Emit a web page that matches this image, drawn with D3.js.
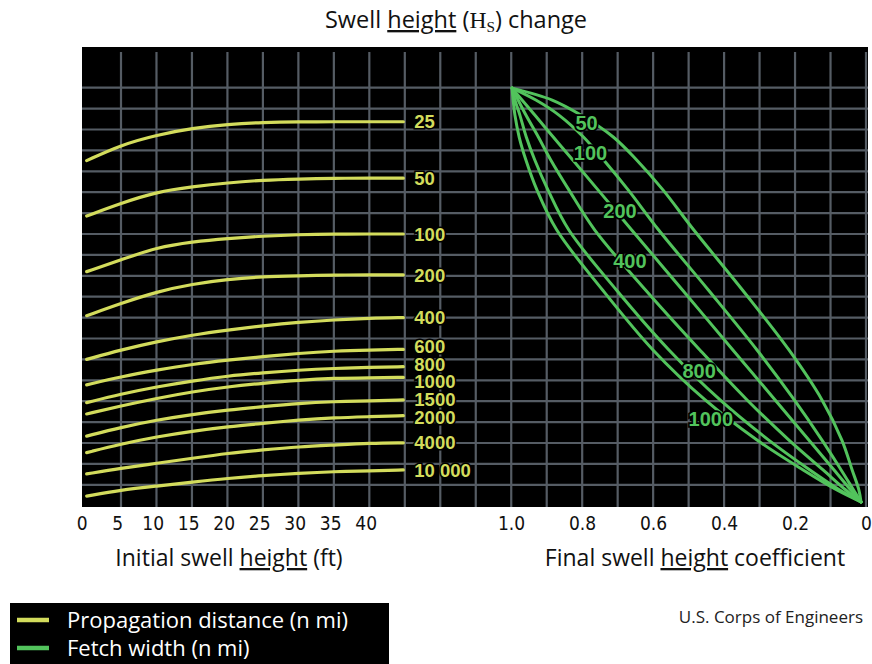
<!DOCTYPE html>
<html><head><meta charset="utf-8">
<script src="https://cdn.jsdelivr.net/npm/d3@7"></script>
<style>body{margin:0;background:#fff} svg{display:block}</style>
</head><body>
<svg id="c" width="872" height="664"></svg>
<script>
// ---------- DATA ----------
const leftTicks = [0, 5, 10, 15, 20, 25, 30, 35, 40];
const rightTicks = [1.0, 0.8, 0.6, 0.4, 0.2, 0];
const rightTickLabels = ["1.0", "0.8", "0.6", "0.4", "0.2", "0"];

// Propagation distance curves (yellow): initial swell height (ft) vs chart row
const propLabels = ["25", "50", "100", "200", "400", "600", "800", "1000", "1500", "2000", "4000", "10 000"];
const propX = [0.7, 5.5, 10.6, 15.6, 20.6, 25.5, 30.6, 35.5, 40.6, 45.3];
const prop25    = [16.51, 17.26, 17.74, 18.06, 18.25, 18.34, 18.37, 18.37, 18.37, 18.37];
const prop50    = [13.86, 14.47, 15.02, 15.26, 15.45, 15.58, 15.63, 15.67, 15.67, 15.67];
const prop100   = [11.20, 11.76, 12.36, 12.63, 12.79, 12.90, 12.97, 13.00, 13.00, 13.00];
const prop200   = [9.09, 9.68, 10.24, 10.61, 10.83, 10.96, 11.00, 11.04, 11.04, 11.04];
const prop400   = [7.00, 7.45, 7.85, 8.17, 8.41, 8.61, 8.78, 8.89, 8.97, 9.00];
const prop600   = [5.78, 6.17, 6.49, 6.77, 6.97, 7.13, 7.29, 7.40, 7.45, 7.48];
const prop800   = [4.93, 5.34, 5.69, 5.97, 6.21, 6.36, 6.49, 6.57, 6.62, 6.65];
const prop1000  = [4.39, 4.77, 5.14, 5.45, 5.69, 5.86, 6.01, 6.10, 6.12, 6.14];
const prop1500  = [3.33, 3.75, 4.10, 4.37, 4.58, 4.74, 4.90, 4.98, 5.02, 5.06];
const prop2000  = [2.54, 2.95, 3.30, 3.57, 3.78, 3.94, 4.10, 4.21, 4.26, 4.31];
const prop4000  = [1.52, 1.79, 2.03, 2.27, 2.51, 2.67, 2.82, 2.90, 2.99, 3.01];
const prop10000 = [0.46, 0.75, 0.94, 1.13, 1.31, 1.44, 1.55, 1.63, 1.67, 1.71];

// Fetch width curves (green): final swell height coefficient vs chart row
const fetchLabels = ["50", "100", "200", "400", "800", "1000"];
const fetchRows  = [19.98, 19.41, 18.69, 17.64, 16.54, 15.11, 13.19, 10.32, 7.45, 5.06, 3.14, 1.71, 0.75, 0.18];
const fetch50    = [0.997, 0.884, 0.803, 0.712, 0.646, 0.572, 0.485, 0.348, 0.217, 0.124, 0.068, 0.039, 0.020, 0.014];
const fetch100   = [0.997, 0.930, 0.865, 0.796, 0.739, 0.670, 0.584, 0.444, 0.307, 0.202, 0.124, 0.070, 0.035, 0.014];
const fetch200   = [0.997, 0.969, 0.933, 0.881, 0.826, 0.755, 0.660, 0.517, 0.375, 0.256, 0.161, 0.090, 0.043, 0.014];
const fetch400   = [0.997, 0.980, 0.958, 0.923, 0.888, 0.837, 0.764, 0.621, 0.468, 0.335, 0.217, 0.121, 0.057, 0.014];
const fetch800   = [0.997, 0.989, 0.975, 0.957, 0.933, 0.896, 0.837, 0.703, 0.555, 0.411, 0.274, 0.158, 0.074, 0.014];
const fetch1000  = [0.997, 0.994, 0.989, 0.977, 0.958, 0.927, 0.871, 0.742, 0.600, 0.453, 0.307, 0.177, 0.082, 0.014];
const fetchLabelCoef = [0.787, 0.776, 0.693, 0.665, 0.470, 0.437];
const fetchLabelRow  = [18.33, 16.90, 14.12, 11.73, 6.47, 4.17];

const legendItems = ["Propagation distance (n mi)", "Fetch width (n mi)"];
const credit = "U.S. Corps of Engineers";

// ---------- STYLE ----------
const YEL = "#d3dc5c", GRN = "#52c35c", GRID = "#555c64";
const SANS = "'Open Sans', Lato, sans-serif";
const BOLD = "'Liberation Sans', Arial, sans-serif";
const NARROW = "'Liberation Sans Narrow', 'DejaVu Sans Condensed', sans-serif";

const svg = d3.select("#c");
svg.append("rect").attr("width", 872).attr("height", 664).attr("fill", "#fff");

// scales
const colScale = d3.scaleLinear().domain([0, 21]).range([121, 866]);
const rowScale = d3.scaleLinear().domain([0, 20]).range([505.7, 87.7]);
const xL = d3.scaleLinear().domain([0, 40]).range([81.7, 365.7]);
const xR = d3.scaleLinear().domain([1, 0]).range([511, 866]);
const plot = {x0: 82, x1: 868, y0: 47, y1: 507};

// background
svg.append("rect").attr("x", plot.x0).attr("y", plot.y0)
  .attr("width", plot.x1 - plot.x0).attr("height", plot.y1 - plot.y0).attr("fill", "#000");

// grid
const grid = svg.append("g").attr("stroke", GRID).attr("stroke-width", 2.2);
grid.selectAll("line.v").data(d3.range(0, 22)).join("line").attr("class", "v")
  .attr("x1", d => colScale(d)).attr("x2", d => colScale(d))
  .attr("y1", plot.y0 + 5).attr("y2", plot.y1);
grid.selectAll("line.h").data(d3.range(1, 21)).join("line").attr("class", "h")
  .attr("x1", plot.x0).attr("x2", plot.x1)
  .attr("y1", d => rowScale(d)).attr("y2", d => rowScale(d));

// yellow curves
const propSeries = [prop25, prop50, prop100, prop200, prop400, prop600, prop800, prop1000, prop1500, prop2000, prop4000, prop10000];
const lineL = d3.line().x(d => xL(d[0])).y(d => rowScale(d[1])).curve(d3.curveBasis);
svg.append("g").selectAll("path").data(propSeries).join("path")
  .attr("d", s => lineL(s.map((v, i) => [propX[i], v])))
  .attr("fill", "none").attr("stroke", YEL).attr("stroke-width", 3.2).attr("stroke-linecap", "round");

// yellow labels with simple collision relaxation
const endY = propSeries.map(s => rowScale(s[s.length - 1]));
const labY = endY.slice();
const GAP = 17.8;
for (let it = 0; it < 200; it++) {
  for (let i = 1; i < labY.length; i++) {
    const gap = labY[i] - labY[i - 1];
    if (gap < GAP) { const sh = (GAP - gap) / 2; labY[i - 1] -= sh; labY[i] += sh; }
  }
}
svg.append("g").selectAll("text").data(propLabels).join("text")
  .attr("x", xL(propX[propX.length - 1]) + 11)
  .attr("y", (d, i) => labY[i]).attr("dy", "0.36em")
  .attr("font-family", BOLD).attr("font-weight", "bold").attr("font-size", 18.5)
  .attr("fill", YEL).attr("stroke", "#000").attr("stroke-width", 3).attr("paint-order", "stroke")
  .text(d => d);

// green curves
const fetchSeries = [fetch50, fetch100, fetch200, fetch400, fetch800, fetch1000];
const lineR = d3.line().x(d => xR(d[0])).y(d => rowScale(d[1])).curve(d3.curveCatmullRom.alpha(0.5));
svg.append("g").selectAll("path").data(fetchSeries).join("path")
  .attr("d", s => lineR(s.map((c, i) => [c, fetchRows[i]])))
  .attr("fill", "none").attr("stroke", GRN).attr("stroke-width", 3).attr("stroke-linecap", "round");

svg.append("g").selectAll("text").data(fetchLabels).join("text")
  .attr("x", (d, i) => xR(fetchLabelCoef[i])).attr("y", (d, i) => rowScale(fetchLabelRow[i]))
  .attr("dy", "0.36em").attr("text-anchor", "middle")
  .attr("font-family", BOLD).attr("font-weight", "bold").attr("font-size", 20)
  .attr("fill", GRN).attr("stroke", "#000").attr("stroke-width", 3.5).attr("paint-order", "stroke")
  .text(d => d);

// axes
const axL = svg.append("g").attr("transform", `translate(0,${plot.y1})`)
  .call(d3.axisBottom(xL).tickValues(leftTicks).tickSize(0).tickPadding(10));
const axR = svg.append("g").attr("transform", `translate(0,${plot.y1})`)
  .call(d3.axisBottom(xR).tickValues(rightTicks).tickSize(0).tickPadding(10)
    .tickFormat((d, i) => rightTickLabels[i]));
[axL, axR].forEach(a => {
  a.select(".domain").remove();
  a.selectAll("text").attr("font-family", NARROW).attr("font-size", 19).attr("fill", "#111");
});

// titles
function titleWithUnderline(x, y, parts, size) {
  const t = svg.append("text").attr("x", x).attr("y", y).attr("text-anchor", "middle")
    .attr("font-family", SANS).attr("font-size", size).attr("fill", "#111");
  parts.forEach(p => {
    const ts = t.append("tspan").text(p.t);
    if (p.u) ts.style("text-decoration", "underline");
    if (p.serif) ts.attr("font-family", "'Liberation Serif', serif");
    if (p.sub) ts.attr("font-size", size * 0.65).attr("dy", 4);
    if (p.unsub) ts.attr("dy", -4);
  });
  return t;
}
titleWithUnderline(229, 566, [{t: "Initial swell "}, {t: "height", u: true}, {t: " (ft)"}], 23);
titleWithUnderline(695, 566, [{t: "Final swell "}, {t: "height", u: true}, {t: " coefficient"}], 23);
titleWithUnderline(456, 28, [{t: "Swell "}, {t: "height", u: true}, {t: " ("}, {t: "H", serif: true},
  {t: "S", serif: true, sub: true}, {t: ") change", unsub: true}], 23.5);

// legend
const lg = svg.append("g");
lg.append("rect").attr("x", 10).attr("y", 603).attr("width", 379).attr("height", 61).attr("fill", "#000");
const legColors = [YEL, GRN];
lg.selectAll("line").data(legendItems).join("line")
  .attr("x1", 17).attr("x2", 49).attr("y1", (d, i) => 620 + i * 28).attr("y2", (d, i) => 620 + i * 28)
  .attr("stroke", (d, i) => legColors[i]).attr("stroke-width", 4.5);
lg.selectAll("text").data(legendItems).join("text")
  .attr("x", 67).attr("y", (d, i) => 620 + i * 28).attr("dy", "0.36em")
  .attr("font-family", SANS).attr("font-size", 22).attr("fill", "#fff").text(d => d);

// credit
svg.append("text").attr("x", 863).attr("y", 617).attr("dy", "0.36em").attr("text-anchor", "end")
  .attr("font-family", SANS).attr("font-size", 17).attr("fill", "#222").text(credit);
</script>
</body></html>
